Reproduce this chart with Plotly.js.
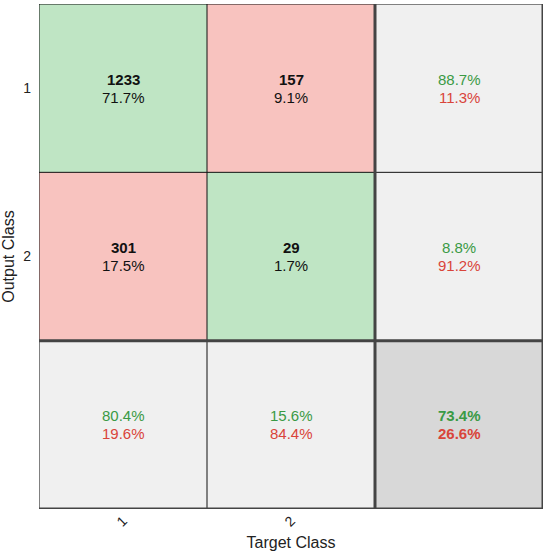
<!DOCTYPE html>
<html>
<head>
<meta charset="utf-8">
<script src="https://cdn.plot.ly/plotly-3.0.1.min.js"></script>
<style>html,body{margin:0;padding:0;background:#fff;}#chart{width:550px;height:560px;}</style>
</head>
<body>
<div id="chart"></div>
<script>
// ---- data ----
const classLabels = ["1", "2"];
const counts = [[1233, 157], [301, 29]];
const cellPct = [[71.7, 9.1], [17.5, 1.7]];
const rowCorrect = [88.7, 8.8];
const rowWrong = [11.3, 91.2];
const colCorrect = [80.4, 15.6];
const colWrong = [19.6, 84.4];
const totalCorrect = 73.4;
const totalWrong = 26.6;

const GREEN_TXT = "#3a9a45", RED_TXT = "#d9443a";
const n = classLabels.length;
const xs = [0, 1, 2];
const ys = [0, 1, 2];

// category codes: 0 correct, 1 wrong, 2 summary, 3 total
const z = [];
for (let r = 0; r <= n; r++) {
  const row = [];
  for (let c = 0; c <= n; c++) {
    if (r === n && c === n) row.push(3);
    else if (r === n || c === n) row.push(2);
    else row.push(r === c ? 0 : 1);
  }
  z.push(row);
}

const heat = {
  type: "heatmap", x: xs, y: ys, z: z, zmin: 0, zmax: 3,
  colorscale: [[0, "#bfe5c4"], [0.25, "#bfe5c4"], [0.25, "#f8c3bf"], [0.5, "#f8c3bf"],
               [0.5, "#f0f0f0"], [0.75, "#f0f0f0"], [0.75, "#d8d8d8"], [1, "#d8d8d8"]],
  showscale: false, hoverinfo: "skip"
};

const F = "Liberation Sans, Arial, Helvetica, sans-serif";
const FS = 15;
const ann = [];
function cellText(x, y, line1, line2, c1, c2, bold1, bold2) {
  ann.push({x: x, y: y, xref: "x", yref: "y", showarrow: false, yshift: 9,
    text: bold1 ? "<b>" + line1 + "</b>" : line1, font: {family: F, size: FS, color: c1}});
  ann.push({x: x, y: y, xref: "x", yref: "y", showarrow: false, yshift: -9,
    text: bold2 ? "<b>" + line2 + "</b>" : line2, font: {family: F, size: FS, color: c2}});
}
for (let r = 0; r < n; r++) {
  for (let c = 0; c < n; c++) {
    cellText(c, r, String(counts[r][c]), cellPct[r][c].toFixed(1) + "%", "#111", "#111", true, false);
  }
  cellText(n, r, rowCorrect[r].toFixed(1) + "%", rowWrong[r].toFixed(1) + "%", GREEN_TXT, RED_TXT, false, false);
}
for (let c = 0; c < n; c++) {
  cellText(c, n, colCorrect[c].toFixed(1) + "%", colWrong[c].toFixed(1) + "%", GREEN_TXT, RED_TXT, false, false);
}
cellText(n, n, totalCorrect.toFixed(1) + "%", totalWrong.toFixed(1) + "%", GREEN_TXT, RED_TXT, true, true);

const shapes = [];
// thin grid
for (let i = 0; i <= n + 1; i++) {
  const p = i - 0.5;
  shapes.push({type: "line", xref: "x", yref: "y", x0: p, x1: p, y0: -0.5, y1: n + 0.5, line: {color: "#111", width: 1}});
  shapes.push({type: "line", xref: "x", yref: "y", x0: -0.5, x1: n + 0.5, y0: p, y1: p, line: {color: "#111", width: 1}});
}
// thick separators around summary row / column
[n - 0.5, n + 0.5].forEach(p => {
  shapes.push({type: "line", xref: "x", yref: "y", x0: p, x1: p, y0: -0.5, y1: n + 0.5, line: {color: "#444", width: 3}});
  shapes.push({type: "line", xref: "x", yref: "y", x0: -0.5, x1: n + 0.5, y0: p, y1: p, line: {color: "#444", width: 3}});
});

const layout = {
  width: 550, height: 560,
  margin: {l: 39, r: 7, t: 4, b: 51},
  paper_bgcolor: "#fff", plot_bgcolor: "#fff",
  font: {family: F, color: "#222"},
  xaxis: {
    range: [-0.5, n + 0.5], tickvals: xs, ticktext: classLabels.concat([""]),
    tickangle: -45, ticks: "", showgrid: false, zeroline: false, fixedrange: true,
    automargin: false, ticklabelstandoff: 0,
    tickfont: {family: F, size: 14, color: "#222"},
    title: {text: "Target Class", font: {family: F, size: 16, color: "#222"}, standoff: 8}
  },
  yaxis: {
    range: [n + 0.5, -0.5], tickvals: ys, ticktext: classLabels.concat([""]),
    ticks: "", showgrid: false, zeroline: false, fixedrange: true,
    automargin: false, ticklabelstandoff: 7,
    tickfont: {family: F, size: 14, color: "#222"},
    title: {text: "Output Class", font: {family: F, size: 16, color: "#222"}, standoff: 8}
  },
  annotations: ann,
  shapes: shapes
};

Plotly.newPlot("chart", [heat], layout, {displayModeBar: false, staticPlot: true});
</script>
</body>
</html>
